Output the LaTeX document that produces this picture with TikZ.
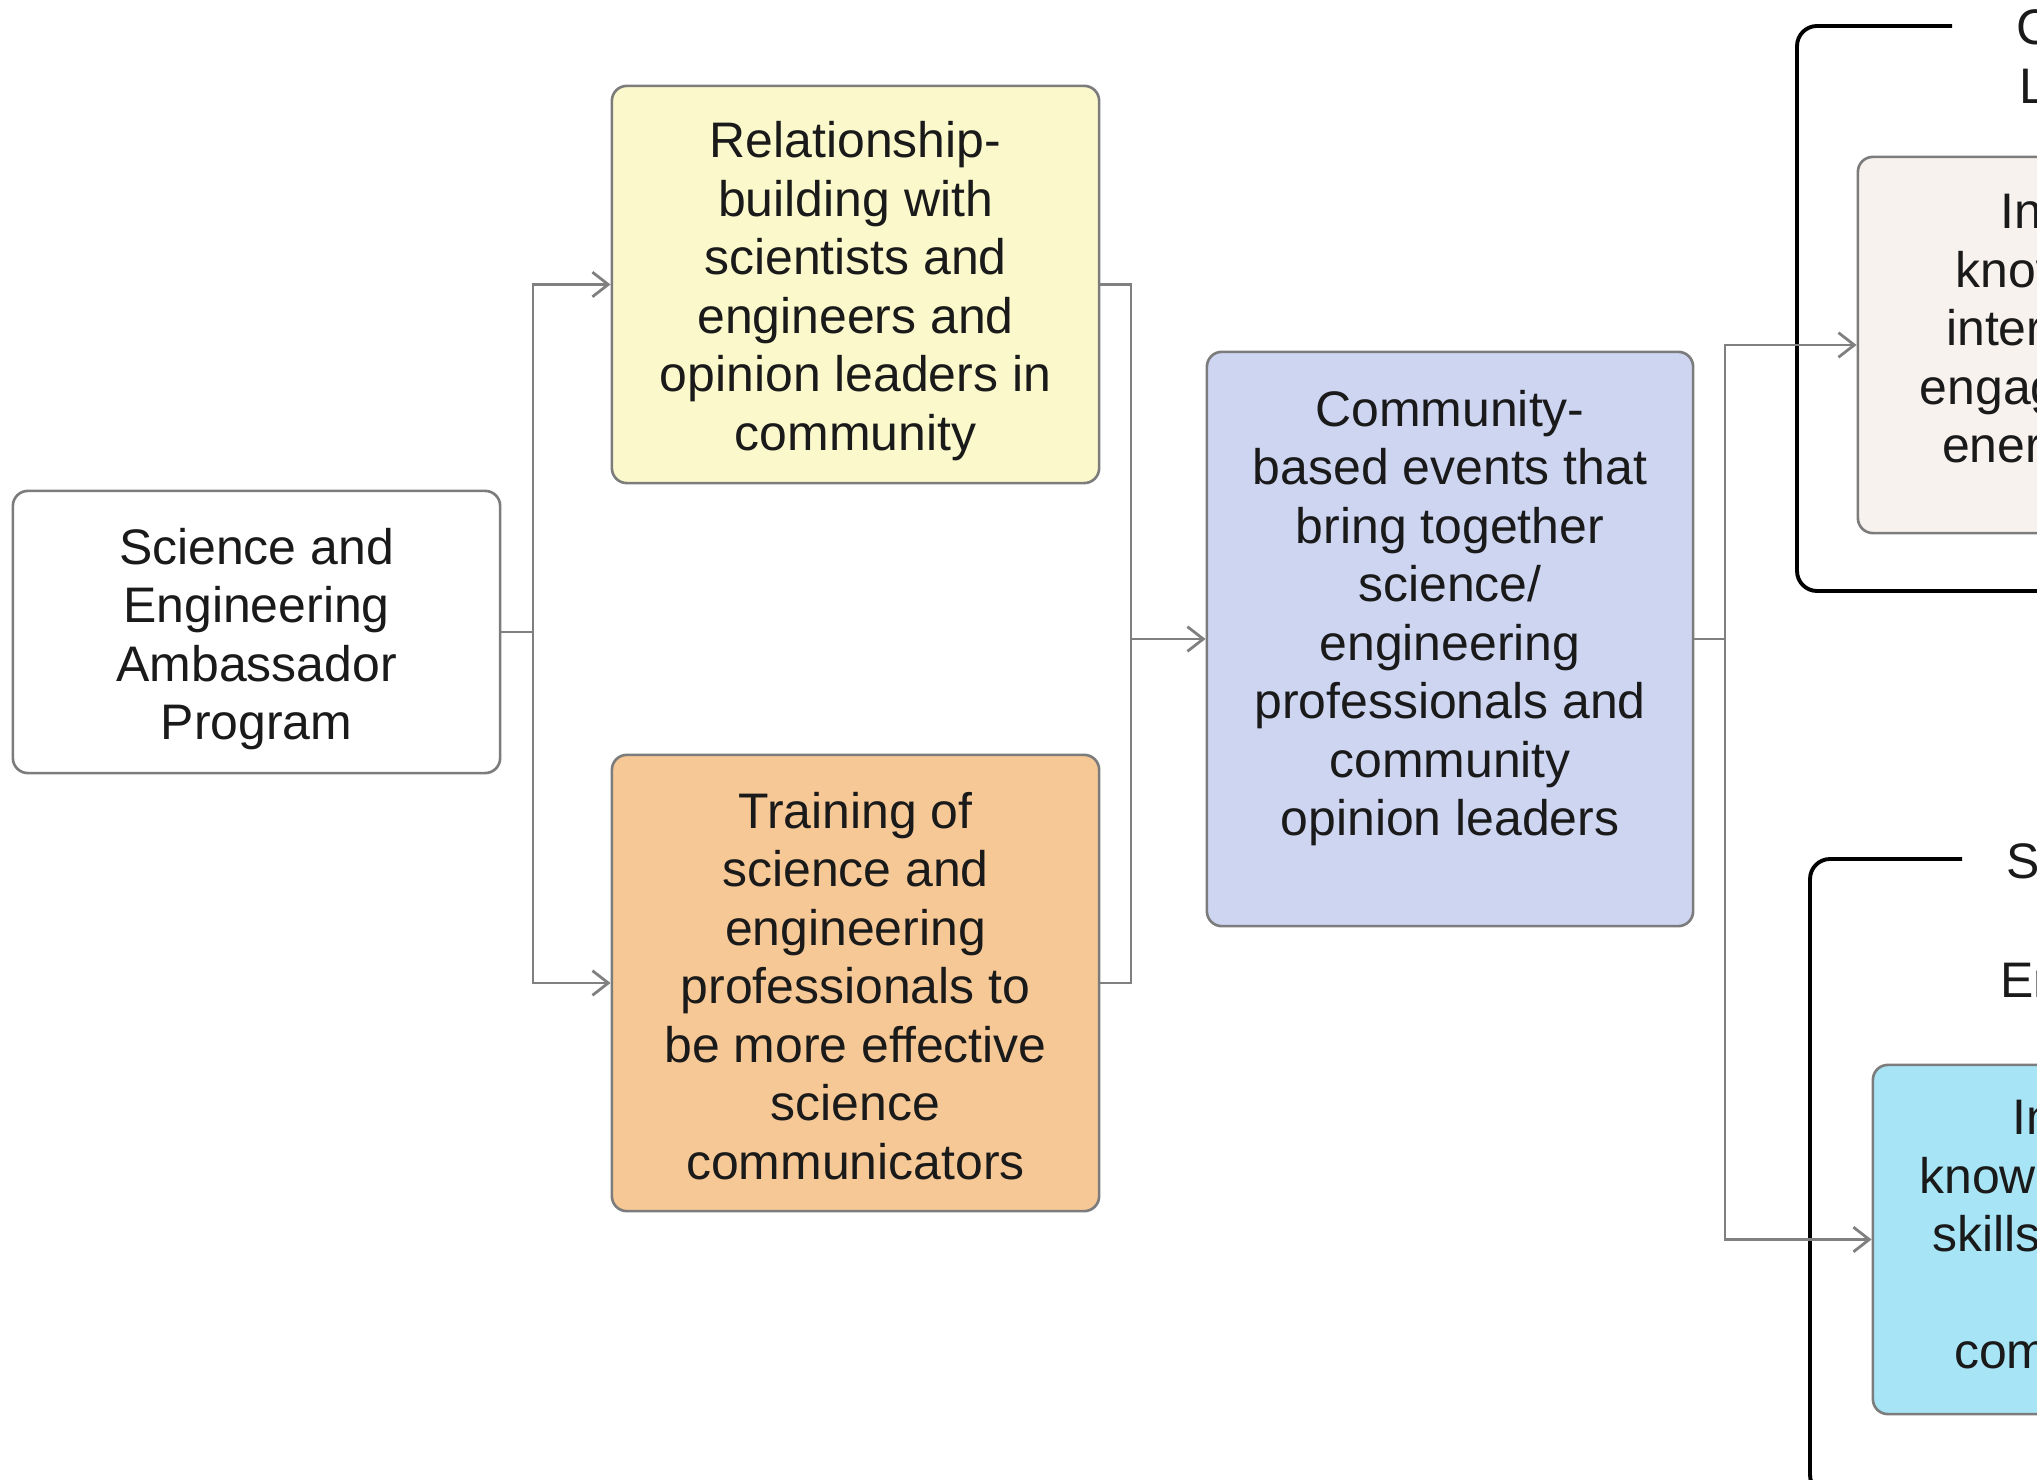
\documentclass[tikz,border=0pt]{standalone}
\usepackage{fontspec}
\setmainfont{Liberation Sans}
\usetikzlibrary{arrows.meta}
\definecolor{boxgray}{HTML}{7C7C7C}
\definecolor{conngray}{HTML}{808080}
\definecolor{fillyellow}{HTML}{FBF9CB}
\definecolor{fillorange}{HTML}{F6C896}
\definecolor{fillblue}{HTML}{CDD5F1}
\definecolor{fillcream}{HTML}{F8F2EE}
\definecolor{fillcyan}{HTML}{A7E5F6}
\definecolor{txt}{HTML}{1A1A1A}
\begin{document}
\begin{tikzpicture}[x=0.01cm,y=-0.01cm,
  boxtext/.style={font=\fontsize{14.2pt}{16.64pt}\selectfont, text=txt, align=center, inner sep=0pt},
  flowbox/.style={draw=boxgray, line width=0.75pt, rounded corners=0.15cm, inner sep=0pt},
  labeltext/.style={font=\fontsize{14.2pt}{17pt}\selectfont, text=txt, align=center, inner sep=0pt},
  conn/.style={draw=conngray, line width=0.8pt},
  arr/.style={conn, -{Straight Barb[length=4.5pt,width=7pt]}},
  frame/.style={draw=black, line width=1.1pt, rounded corners=0.2cm}
]
\useasboundingbox (0,0) rectangle (2037,1480);
\clip (0,0) rectangle (2037,1480);

% group frames (legend-style)
\draw[frame] (1952,26) -- (1797,26) -- (1797,591) -- (2080,591);
\draw[frame] (1962,859) -- (1810,859) -- (1810,1495) -- (2080,1495);
\node[labeltext] (lblC) at (2143,61) {Community\\Leadership};
\node[labeltext] (lblS) at (2113,925) {Scientists\\and\\Engineers};

% boxes
\node[flowbox, fill=white, minimum width=4.87cm, minimum height=2.82cm] (A) at (256.5,632) {};
\node[boxtext] (Atext) at (256.5,639) {Science and\\Engineering\\Ambassador\\Program};
\node[flowbox, fill=fillyellow, minimum width=4.87cm, minimum height=3.97cm] (B) at (855.5,284.5) {};
\node[boxtext] (Btext) at (855.5,291)
  {Relationship-\\building with\\scientists and\\engineers and\\opinion leaders in\\community};
\node[flowbox, fill=fillorange, minimum width=4.87cm, minimum height=4.56cm] (C) at (855.5,983) {};
\node[boxtext] (Ctext) at (855.5,986)
  {Training of\\science and\\engineering\\professionals to\\be more effective\\science\\communicators};
\node[flowbox, fill=fillblue, minimum width=4.86cm, minimum height=5.74cm] (D) at (1450,639) {};
\node[boxtext] (Dtext) at (1450,618)
  {Community-\\based events that\\bring together\\science/\\engineering\\professionals and\\community\\opinion leaders};
\node[flowbox, fill=fillcream, minimum width=4.87cm, minimum height=3.76cm] (E) at (2101.5,345) {};
\node[boxtext] (Etext) at (2110,333)
  {Increased\\knowledge of,\\interest in, and\\engagement with\\energy science};
\node[flowbox, fill=fillcyan, minimum width=4.87cm, minimum height=3.49cm] (F) at (2116.5,1239.5) {};
\node[boxtext] (Ftext) at (2122,1234)
  {Increased\\knowledge of, and\\skills for effective\\science\\communication};

% connectors
\coordinate (j1) at (533,632);
\coordinate (j2) at (1131,639);
\coordinate (j3) at (1725,639);
\draw[conn] (A.east) -- (j1);
\draw[arr] (j1) |- (B.west);
\draw[arr] (j1) |- (C.west);
\draw[conn] (B.east) -| (j2);
\draw[conn] (C.east) -| (j2);
\draw[arr] (j2) -- (D.west);
\draw[conn] (D.east) -- (j3);
\draw[arr] (j3) |- (E.west);
\draw[arr] (j3) |- (F.west);
\end{tikzpicture}
\end{document}
